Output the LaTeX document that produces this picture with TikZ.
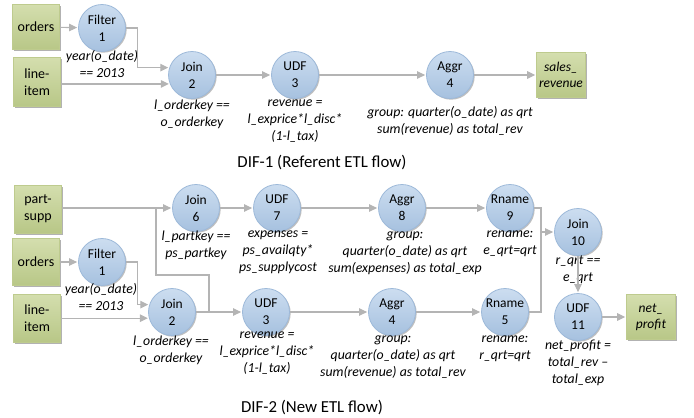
\documentclass[tikz,border=0pt]{standalone}
\usepackage{fontspec}
\setmainfont{Carlito}
\usetikzlibrary{arrows.meta,shadows,calc}
\definecolor{circtop}{HTML}{CCDDF0}
\definecolor{circbot}{HTML}{A6C1DF}
\definecolor{circline}{HTML}{9DB9D9}
\definecolor{boxtop}{HTML}{D4DEAE}
\definecolor{boxbot}{HTML}{B8C787}
\definecolor{boxline}{HTML}{BECB8E}
\definecolor{conn}{HTML}{B4B4B4}
\tikzset{
  opnode/.style={circle, minimum size=47pt, inner sep=0pt, top color=circtop, bottom color=circbot,
    draw=circline, line width=0.8pt, align=center, font=\fontsize{13.5}{17}\selectfont,
    drop shadow={shadow xshift=1.2pt, shadow yshift=-1.2pt, opacity=0.25, fill=black}},
  dsnode/.style={rectangle, minimum width=47pt, minimum height=45pt, inner sep=0pt, top color=boxtop, bottom color=boxbot,
    draw=boxline, line width=0.6pt, align=center, font=\fontsize{14}{17}\selectfont,
    drop shadow={shadow xshift=1.5pt, shadow yshift=-1.5pt, opacity=0.3, fill=black}},
  lbl/.style={align=center, font=\fontsize{13.8}{17}\selectfont\itshape, inner sep=0pt, anchor=north},
  ttl/.style={font=\fontsize{16.8}{20}\selectfont, inner sep=0pt},
  conline/.style={draw=conn, line width=1.1pt},
  arr/.style={conline, -{Triangle[length=8pt,width=7.5pt]}, shorten >=1pt}
}
\begin{document}
\begin{tikzpicture}[x=1pt,y=-1pt]
\useasboundingbox (0,0) rectangle (694,418);
% ---------- DIF-1 ----------
\node[dsnode] (t_orders) at (36,27) {orders};
\node[dsnode, minimum height=49pt] (t_line) at (37,82) {line-\\item};
\node[opnode] (t_f1) at (102,28) {Filter\\1};
\node[opnode] (t_j2) at (192,75) {Join\\2};
\node[opnode] (t_u3) at (295,75) {UDF\\3};
\node[opnode] (t_a4) at (450,75) {Aggr\\4};
\node[dsnode, minimum width=49pt, font=\fontsize{13.5}{16}\selectfont\itshape] (t_sales) at (561,75) {sales\_\\revenue};

\node[lbl] (t_f1l) at (102,50) {year(o\_date)\\== 2013};
\node[lbl] (t_j2l) at (192,100) {l\_orderkey ==\\o\_orderkey};
\node[lbl] (t_u3l) at (295,100) {revenue =\\l\_exprice*l\_disc*\\(1-l\_tax)};
\node[lbl] (t_a4l) at (450,106) {group: quarter(o\_date) as qrt\\sum(revenue) as total\_rev};
\node[ttl] (t_title) at (322,163) {DIF-1 (Referent ETL flow)};

\draw[arr] (t_orders) -- (t_f1);
\draw[arr] (t_f1.east) -- ++(12,0) |- (t_j2.162);
\draw[arr] (t_line.east |- t_j2.202) -- (t_j2.202);
\draw[arr] (t_j2) -- (t_u3);
\draw[arr] (t_u3) -- (t_a4);
\draw[arr] (t_a4) -- (t_sales);

% ---------- DIF-2 ----------
\node[dsnode, minimum height=48pt] (b_ps) at (38,209) {part-\\supp};
\node[dsnode, minimum height=47pt] (b_orders) at (36,262) {orders};
\node[dsnode, minimum height=48pt] (b_line) at (37,318) {line-\\item};

\node[opnode] (b_j6) at (196,208) {Join\\6};
\node[opnode] (b_u7) at (277,208) {UDF\\7};
\node[opnode] (b_a8) at (402,208) {Aggr\\8};
\node[opnode] (b_r9) at (510,208) {Rname\\9};
\node[opnode] (b_j10) at (578,232) {Join\\10};
\node[opnode] (b_f1) at (102,262) {Filter\\1};
\node[opnode] (b_j2) at (172,312) {Join\\2};
\node[opnode] (b_u3) at (266,312) {UDF\\3};
\node[opnode] (b_a4) at (392,312) {Aggr\\4};
\node[opnode] (b_r5) at (505,312) {Rname\\5};
\node[opnode] (b_u11) at (578,317) {UDF\\11};
\node[dsnode, minimum width=49pt, font=\fontsize{13.5}{16}\selectfont\itshape] (b_net) at (651,317) {net\_\\profit};

\node[lbl] (b_j6l) at (196,231) {l\_partkey ==\\ps\_partkey};
\node[lbl] (b_u7l) at (278,231) {expenses =\\ps\_availqty*\\ps\_supplycost};
\node[lbl] (b_a8l) at (405,232) {group:\\quarter(o\_date) as qrt\\sum(expenses) as total\_exp};
\node[lbl] (b_r9l) at (510,231) {rename:\\e\_qrt=qrt};
\node[lbl] (b_j10l) at (578,256) {r\_qrt ==\\e\_qrt};
\node[lbl] (b_f1l) at (101,283) {year(o\_date)\\== 2013};
\node[lbl] (b_j2l) at (171,336) {l\_orderkey ==\\o\_orderkey};
\node[lbl] (b_u3l) at (267,332) {revenue =\\l\_exprice*l\_disc*\\(1-l\_tax)};
\node[lbl] (b_a4l) at (393,336) {group:\\quarter(o\_date) as qrt\\sum(revenue) as total\_rev};
\node[lbl] (b_r5l) at (505,336) {rename:\\r\_qrt=qrt};
\node[lbl] (b_u11l) at (578,340) {net\_profit =\\total\_rev –\\total\_exp};
\node[ttl] (b_title) at (312,408) {DIF-2 (New ETL flow)};

\coordinate (psbr) at (156,208);
\coordinate (psturn) at (209,275);
\coordinate (mrg) at (541,232);

\draw[arr] (b_ps.east |- b_j6) -- (b_j6);
\draw[conline] (psbr) |- (psturn) -- (psturn |- b_j2.east);
\draw[arr] (b_j6) -- (b_u7);
\draw[arr] (b_u7) -- (b_a8);
\draw[arr] (b_a8) -- (b_r9);
\draw[arr] (b_orders) -- (b_f1);
\draw[arr] (b_f1.east) -- ++(12,0) |- (b_j2.162);
\draw[arr] (b_line.east |- b_j2.195) -- (b_j2.195);
\draw[arr] (b_j2) -- (b_u3);
\draw[arr] (b_u3) -- (b_a4);
\draw[arr] (b_a4) -- (b_r5);
\draw[conline] (b_r9.east) -| (mrg);
\draw[conline] (b_r5.east) -| (mrg);
\draw[arr] (mrg) -- (b_j10.west);
\draw[arr] (b_j10) -- (b_u11);
\draw[arr] (b_u11) -- (b_net.west |- b_u11);
\end{tikzpicture}
\end{document}
